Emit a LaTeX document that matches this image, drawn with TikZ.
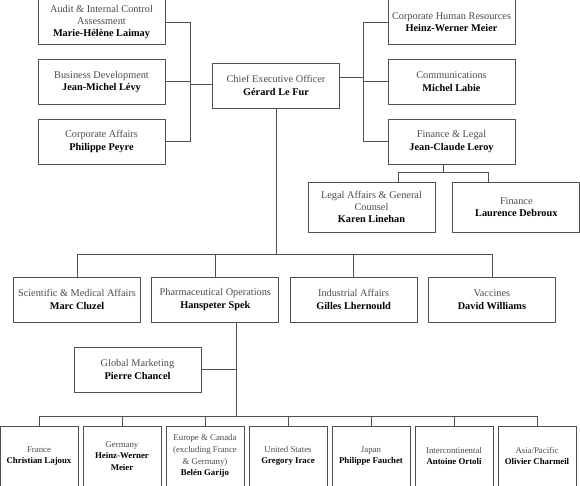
\documentclass[tikz,border=0pt]{standalone}
\usepackage{fontspec}
\setmainfont{Liberation Serif}
\usetikzlibrary{positioning}

\definecolor{edgegray}{RGB}{80,80,80}
\definecolor{titlegray}{RGB}{75,75,75}
\newcommand{\head}[1]{\textcolor{black}{\textbf{#1}}}

\begin{document}
\begin{tikzpicture}[x=1pt, y=-1pt,
        unit/.style={draw=edgegray, line width=0.8pt, text=titlegray, align=center,
            minimum width=127pt, minimum height=45pt, inner sep=1pt,
            font=\fontsize{10.3}{12.4}\selectfont},
        office/.style={unit, minimum width=78pt, minimum height=60pt,
            font=\fontsize{8.8}{11.8}\selectfont},
        wire/.style={draw=edgegray, line width=0.8pt}]
    \useasboundingbox (0,0) rectangle (580,486);
    % chief executive and staff
    \node[unit] (ceo) at (276,85.5) {Chief Executive Officer\\\head{Gérard Le Fur}};
    \node[unit] (l1) at (101.5,22) {Audit \& Internal Control\\Assessment\\\head{Marie-Hélène Laimay}};
    \node[unit, below=14pt of l1] (l2) {Business Development\\\head{Jean-Michel Lévy}};
    \node[unit, below=14pt of l2] (l3) {Corporate Affairs\\\head{Philippe Peyre}};
    \node[unit] (r1) at (451.5,22) {Corporate Human Resources\\\head{Heinz-Werner Meier}};
    \node[unit, below=14pt of r1] (r2) {Communications\\\head{Michel Labie}};
    \node[unit, below=14pt of r2] (r3) {Finance \& Legal\\\head{Jean-Claude Leroy}};
    \node[unit, minimum height=50pt] (f1) at (371.5,207) {Legal Affairs \& General\\Counsel\\\head{Karen Linehan}};
    \node[unit, minimum height=50pt, right=17pt of f1] (f2) {Finance\\\head{Laurence Debroux}};
    % operating divisions
    \node[unit] (d1) at (77,299.5) {Scientific \& Medical Affairs\\\head{Marc Cluzel}};
    \node[unit, right=10.5pt of d1] (d2) {Pharmaceutical Operations\\\head{Hanspeter Spek}};
    \node[unit, right=10.5pt of d2] (d3) {Industrial Affairs\\\head{Gilles Lhernould}};
    \node[unit, right=10.5pt of d3] (d4) {Vaccines\\\head{David Williams}};
    \node[unit] (gm) at (137.5,369.5) {Global Marketing\\\head{Pierre Chancel}};
    % regions
    \node[office] (c1) at (39,456) {France\\\head{Christian Lajoux}};
    \node[office, right=4.2pt of c1] (c2) {Germany\\\head{Heinz-Werner}\\\head{Meier}};
    \node[office, right=4.2pt of c2] (c3) {Europe \& Canada\\(excluding France\\\& Germany)\\\head{Belén Garijo}};
    \node[office, right=4.2pt of c3] (c4) {United States\\\head{Gregory Irace}};
    \node[office, right=4.2pt of c4] (c5) {Japan\\\head{Philippe Fauchet}};
    \node[office, right=4.2pt of c5] (c6) {Intercontinental\\\head{Antoine Ortoli}};
    \node[office, right=4.2pt of c6] (c7) {Asia/Pacific\\\head{Olivier Charmeil}};

    \coordinate (lb) at (190,84);
    \coordinate (rb) at (363,77);
    \coordinate (fb) at (443,172);
    \coordinate (fl) at (398,172);
    \coordinate (fr) at (488,172);
    \coordinate (mb) at (276,254);
    \coordinate (pb) at (236,416);
    % staff links
    \draw[wire] (l1.east) -| (l3.east -| lb) -- (l3.east);
    \draw[wire] (l2.east) -- (l2.east -| lb);
    \draw[wire] (lb) -- (lb -| ceo.west);
    \draw[wire] (r1.west) -| (r3.west -| rb) -- (r3.west);
    \draw[wire] (r2.west) -- (r2.west -| rb);
    \draw[wire] (rb -| ceo.east) -- (rb);
    \draw[wire] (r3.south -| fb) -- (fb);
    \draw[wire] (f1.north -| fl) -- (fl) -- (fr) -- (f2.north -| fr);
    % divisions
    \draw[wire] (ceo.south) -- (mb);
    \draw[wire] (d1.north) |- (d4.north |- mb) -- (d4.north);
    \draw[wire] (d2.north) -- (d2.north |- mb);
    \draw[wire] (d3.north) -- (d3.north |- mb);
    \draw[wire] (d2.south -| pb) -- (pb);
    \draw[wire] (gm.east) -- (gm.east -| pb);
    \draw[wire] (c1.north) |- (c7.north |- pb) -- (c7.north);
    \foreach \n in {c2,c3,c4,c5,c6}
        \draw[wire] (\n.north) -- (\n.north |- pb);
\end{tikzpicture}
\end{document}
